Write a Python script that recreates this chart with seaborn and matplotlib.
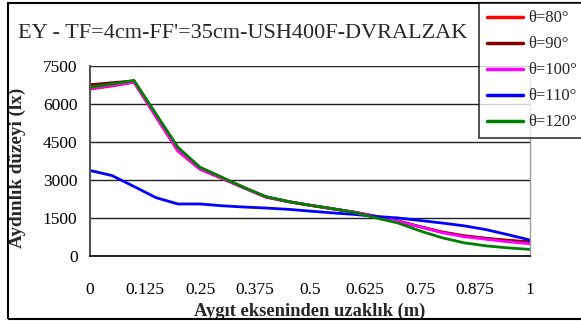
import numpy as np
import pandas as pd
import seaborn as sns
import matplotlib
matplotlib.use("Agg")
import matplotlib.pyplot as plt
from matplotlib.patches import Rectangle

# ---- data ----
x_vals = [0, 0.05, 0.1, 0.15, 0.2, 0.25, 0.3, 0.35, 0.4, 0.45, 0.5,
          0.55, 0.6, 0.65, 0.7, 0.75, 0.8, 0.85, 0.9, 0.95, 1.0]
series_labels = ["θ=80°", "θ=90°", "θ=100°", "θ=110°", "θ=120°"]
theta80 = [6580, 6700, 6850, 5480, 4130, 3420, 3050, 2680, 2320, 2140, 2000,
           1860, 1730, 1560, 1380, 1160, 950, 800, 700, 620, 550]
theta90 = [6750, 6830, 6900, 5560, 4250, 3480, 3090, 2700, 2330, 2150, 2000,
           1870, 1730, 1560, 1380, 1150, 940, 790, 690, 610, 550]
theta100 = [6600, 6720, 6860, 5500, 4150, 3430, 3060, 2680, 2320, 2140, 2000,
            1860, 1730, 1560, 1370, 1150, 920, 760, 660, 560, 480]
theta110 = [3370, 3170, 2740, 2300, 2050, 2050, 1980, 1930, 1890, 1840, 1770,
            1700, 1640, 1560, 1500, 1400, 1300, 1190, 1040, 840, 630]
theta120 = [6650, 6780, 6920, 5600, 4280, 3500, 3100, 2700, 2340, 2150, 2000,
            1870, 1720, 1500, 1300, 990, 720, 520, 400, 320, 260]
colors = ["#ff0000", "#800000", "#ff00ff", "#0000ff", "#008000"]
x_ticks = [0, 0.125, 0.25, 0.375, 0.5, 0.625, 0.75, 0.875, 1]
x_tick_labels = ["0", "0.125", "0.25", "0.375", "0.5", "0.625", "0.75", "0.875", "1"]
y_ticks = [0, 1500, 3000, 4500, 6000, 7500]

rows = []
for lab, vals in zip(series_labels, [theta80, theta90, theta100, theta110, theta120]):
    for xv, yv in zip(x_vals, vals):
        rows.append({"x": xv, "y": yv, "series": lab})
df = pd.DataFrame(rows)

sns.set_style("white")
plt.rcParams["font.family"] = ["Liberation Serif", "DejaVu Serif"]

W, H = 581, 321
fig = plt.figure(figsize=(W / 100, H / 100), dpi=100)
# axes in pixel coords: left 90, right 530, top 65.7, bottom 256
ax = fig.add_axes([90 / W, 1 - 256 / H, (530 - 90) / W, (256 - 65.7) / H])

sns.lineplot(data=df, x="x", y="y", hue="series", hue_order=series_labels,
             palette=colors, linewidth=2.0, ax=ax, legend=True)

ax.set_xlim(0, 1)
ax.set_ylim(0, 7500)
ax.set_xticks(x_ticks)
ax.set_xticklabels(x_tick_labels)
ax.set_yticks(y_ticks)
ax.tick_params(axis="both", labelsize=12.5, length=5, width=1, direction="out",
               colors="black", pad=4)
ax.tick_params(axis="x", pad=14)
ax.grid(axis="y", color="#222222", linewidth=1)
ax.grid(axis="x", visible=False)
ax.spines["top"].set_visible(False)
ax.spines["right"].set_color("#999999")
ax.spines["right"].set_linewidth(1)
ax.spines["left"].set_color("#555555")
ax.spines["left"].set_linewidth(1.5)
ax.spines["bottom"].set_color("black")
ax.spines["bottom"].set_linewidth(1.2)

ax.set_xlabel("Aygıt ekseninden uzaklık (m)", fontsize=13.3, fontweight="bold", labelpad=0)
ax.set_ylabel("Aydınlık düzeyi (lx)", fontsize=13.8, fontweight="bold", labelpad=8)
ax.xaxis.set_label_coords((310 - 90) / (530 - 90), -(303 - 256) / (256 - 65.7))
ax.yaxis.set_label_coords(-(90 - 26) / (530 - 90), (256 - 168) / (256 - 65.7))

fig.text(18 / W, 1 - 33 / H, "EY - TF=4cm-FF'=35cm-USH400F-DVRALZAK",
         fontsize=16, ha="left", va="center")

# outer frame
fig.patches.append(Rectangle((8 / W, 1 - 319 / H), 1.0, (319 - 3) / H,
                             transform=fig.transFigure, fill=False,
                             edgecolor="black", linewidth=1.5, zorder=0))

ax.get_legend().remove()
handles, labels = ax.get_legend_handles_labels()
leg = fig.legend(handles, labels, loc="upper left",
                 bbox_to_anchor=(479 / W, 1 - 3 / H), fontsize=12,
                 frameon=True, fancybox=False, handlelength=2.2,
                 handletextpad=0.3, labelspacing=0.6, borderpad=0.45,
                 borderaxespad=0)
leg.get_frame().set_edgecolor("black")
leg.get_frame().set_linewidth(1.2)
for lh in leg.get_lines():
    lh.set_linewidth(2.5)

fig.savefig("out.png", dpi=100)
